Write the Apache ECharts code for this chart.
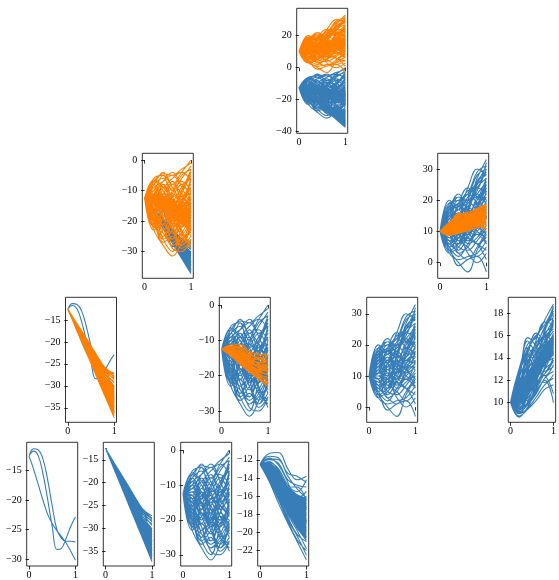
<!DOCTYPE html>
<html>
<head>
<meta charset="utf-8">
<script src="https://cdn.jsdelivr.net/npm/echarts@6/dist/echarts.min.js"></script>
<style>
  html, body { margin: 0; padding: 0; background: #fff; }
  #chart { width: 559px; height: 580px; }
</style>
</head>
<body>
<div id="chart"></div>
<script>
// x positions of the sampled values
const xs = [0, 0.2, 0.4, 0.6, 0.8, 1];
const xsFine = [0, 0.1, 0.2, 0.3, 0.4, 0.5, 0.6, 0.7, 0.8, 0.9, 1];
const xTicks = [0, 1];

// leaf H: three wandering curves (sampled on xsFine)
const leafH = [
  [-12.5, -11.3, -11.5, -13.0, -16.5, -21.0, -25.0, -26.5, -27.0, -27.0, -27.1],
  [-12.5, -11.7, -12.5, -15.5, -19.8, -24.5, -28.4, -28.2, -26.5, -24.5, -22.9],
  [-12.5, -14.8, -17.4, -20.0, -22.4, -24.0, -25.2, -26.2, -27.3, -28.7, -30.2]
];

// leaf I: tight falling wedge
const leafI = [
  [-12.5, -15.9, -19.2, -22.6, -25.8, -27.3],
  [-12.5, -16.0, -19.4, -22.9, -26.2, -28.0],
  [-12.5, -16.1, -19.6, -23.2, -26.4, -28.6],
  [-12.5, -16.2, -19.8, -23.5, -26.8, -29.4],
  [-12.5, -16.3, -20.0, -23.8, -27.4, -30.2],
  [-12.5, -16.4, -20.2, -24.1, -28.0, -30.8],
  [-12.5, -16.5, -20.4, -24.4, -28.4, -31.5],
  [-12.5, -16.6, -20.6, -24.7, -28.8, -32.0],
  [-12.5, -16.7, -20.8, -25.0, -29.2, -32.6],
  [-12.5, -16.8, -21.0, -25.3, -29.6, -33.2],
  [-12.5, -16.9, -21.2, -25.6, -30.0, -33.8],
  [-12.5, -17.0, -21.4, -25.9, -30.4, -34.4],
  [-12.5, -17.1, -21.6, -26.2, -30.8, -35.0],
  [-12.5, -17.2, -21.8, -26.6, -31.2, -35.6],
  [-12.5, -17.3, -22.0, -26.9, -31.6, -36.2],
  [-12.5, -17.4, -22.2, -27.1, -32.0, -36.8],
  [-12.5, -17.5, -22.4, -27.4, -32.3, -37.3],
  [-12.5, -16.3, -20.3, -23.6, -26.0, -27.8],
  [-12.5, -16.5, -20.6, -24.3, -26.9, -28.3],
  [-12.5, -16.8, -21.1, -24.9, -27.5, -29.0],
  [-12.5, -16.4, -21.0, -25.2, -29.0, -32.8],
  [-12.5, -17.0, -21.0, -25.0, -29.8, -34.8],
  [-12.5, -16.6, -20.1, -24.0, -28.6, -33.6],
  [-12.5, -17.2, -22.0, -26.4, -30.2, -33.0],
  [-12.5, -16.9, -21.5, -25.8, -30.7, -36.0]
];
const bandILo = [-12.5, -17.3, -22.1, -27.0, -31.8, -36.6];
const bandIHi = [-12.5, -16.4, -20.3, -24.1, -27.8, -30.0];

// leaf J: wide spread from -12.5
const leafJ = [
  [-12.5, -6, -5, -8, -4, 0],
  [-12.5, -7, -4.5, -5, -3, -1],
  [-12.5, -8, -6, -10, -6, -2],
  [-12.5, -9, -7, -5, -8, -4],
  [-12.5, -10, -5, -12, -10, -5],
  [-12.5, -11, -9, -6, -4, -7],
  [-12.5, -8, -12, -15, -10, -3],
  [-12.5, -13, -8, -14, -12, -9],
  [-12.5, -10, -14, -9, -15, -11],
  [-12.5, -14, -10, -18, -14, -6],
  [-12.5, -15, -16, -12, -8, -13],
  [-12.5, -12, -18, -20, -13, -8],
  [-12.5, -16, -11, -16, -20, -15],
  [-12.5, -17, -20, -14, -17, -12],
  [-12.5, -14, -19, -24, -18, -10],
  [-12.5, -18, -15, -22, -12, -17],
  [-12.5, -19, -23, -18, -22, -14],
  [-12.5, -16, -22, -27, -24, -18],
  [-12.5, -20, -17, -13, -19, -21],
  [-12.5, -21, -25, -21, -16, -19],
  [-12.5, -18, -26, -30, -22, -16],
  [-12.5, -22, -24, -28, -26, -23],
  [-12.5, -23, -28, -31.5, -27, -20],
  [-12.5, -20, -27, -25, -29, -26],
  [-12.5, -19, -13, -19, -25, -28],
  [-12.5, -15, -21, -17, -23, -29],
  [-12.5, -11, -16, -23, -28, -25],
  [-12.5, -13, -17, -11, -7, -10],
  [-12.5, -9, -13, -20, -18, -22],
  [-12.5, -17, -14, -8, -11, -16],
  [-12.5, -6.5, -9, -13, -16, -19],
  [-12.5, -14, -24, -26, -20, -24],
  [-12.5, -22, -19, -15, -24, -27],
  [-12.5, -10, -8, -17, -21, -14],
  [-12.5, -12, -11, -7, -14, -18],
  [-12.5, -16, -25, -19, -13, -11],
  [-12.5, -18, -22, -29, -30, -26],
  [-12.5, -13, -15, -10, -5, -3],
  [-12.5, -20, -21, -24, -15, -9],
  [-12.5, -15, -18, -22, -19, -20],
  [-12.5, -8, -4, -9, -13, -6],
  [-12.5, -11, -7, -4, -9, -15],
  [-12.5, -14, -12, -17, -22, -17],
  [-12.5, -17, -23, -20, -14, -7],
  [-12.5, -21, -18, -23, -27, -21],
  [-12.5, -9, -15, -21, -16, -12],
  [-12.5, -16, -13, -11, -17, -23],
  [-12.5, -19, -26, -23, -18, -13],
  [-12.5, -12, -20, -16, -11, -4],
  [-12.5, -15, -9, -12, -19, -25],
  [-12.5, -23, -21, -26, -21, -17],
  [-12.5, -13, -22, -28, -25, -20],
  [-12.5, -10, -17, -14, -9, -6],
  [-12.5, -18, -12, -21, -28, -22],
  [-12.5, -7, -10, -15, -12, -16]
];

// leaf K: narrow falling bundle
const leafK = [
  [-12.5, -11.3, -11.2, -13.0, -14.2, -13.8],
  [-12.5, -11.6, -11.8, -13.5, -13.8, -14.5],
  [-12.5, -12.0, -12.4, -14.2, -14.8, -15.0],
  [-12.5, -12.3, -13.0, -14.8, -15.5, -14.2],
  [-12.5, -12.6, -13.5, -15.2, -16.5, -16.0],
  [-12.5, -12.8, -14.0, -15.8, -16.2, -15.5],
  [-12.5, -13.0, -14.4, -16.3, -17.4, -17.0],
  [-12.5, -13.2, -14.8, -16.0, -17.8, -18.5],
  [-12.5, -13.4, -15.0, -17.0, -18.2, -17.8],
  [-12.5, -13.6, -15.4, -17.5, -19.0, -19.5],
  [-12.5, -13.8, -15.8, -17.8, -18.8, -18.0],
  [-12.5, -14.0, -16.0, -18.3, -20.2, -21.0],
  [-12.5, -14.2, -16.4, -18.8, -20.8, -22.0],
  [-12.5, -14.4, -16.8, -19.0, -21.0, -23.0],
  [-12.5, -12.2, -13.2, -15.0, -15.0, -16.5],
  [-12.5, -11.8, -12.6, -14.5, -16.8, -17.5],
  [-12.5, -13.1, -14.6, -17.2, -19.5, -20.5],
  [-12.5, -12.9, -14.2, -16.6, -18.6, -19.8],
  [-12.5, -13.5, -15.6, -18.0, -19.8, -21.8],
  [-12.5, -12.4, -13.8, -16.0, -17.0, -16.8],
  [-12.5, -13.7, -15.2, -16.8, -17.0, -18.8],
  [-12.5, -14.1, -16.2, -18.6, -20.4, -22.5],
  [-12.5, -11.9, -12.0, -13.8, -15.2, -16.2],
  [-12.5, -12.7, -13.9, -15.5, -17.6, -19.0],
  [-12.5, -13.3, -15.1, -17.4, -18.4, -17.2]
];
const bandKLo = [-12.5, -13.9, -15.9, -18.0, -19.6, -21.0];
const bandKHi = [-12.5, -12.3, -13.1, -14.9, -15.8, -16.2];

// leaf F: wide spread from 10
const leafF = [
  [10, 18, 21, 20, 27, 33],
  [10, 19, 20, 22, 29, 31],
  [10, 17, 19, 23, 25, 29],
  [10, 16, 21, 18, 24, 27],
  [10, 15, 17, 21, 28, 30],
  [10, 18, 15, 19, 22, 26],
  [10, 14, 19, 16, 20, 24],
  [10, 13, 12, 20, 26, 28],
  [10, 16, 13, 14, 18, 22],
  [10, 12, 16, 12, 17, 25],
  [10, 11, 14, 18, 15, 20],
  [10, 14, 10, 13, 21, 23],
  [10, 9, 13, 15, 12, 18],
  [10, 12, 8, 11, 16, 21],
  [10, 8, 11, 9, 14, 19],
  [10, 13, 17, 10, 9, 15],
  [10, 7, 6, 12, 19, 17],
  [10, 10, 9, 7, 11, 14],
  [10, 6, 4, 9, 13, 16],
  [10, 11, 12, 6, 8, 12],
  [10, 5, 2, 6, 10, 13],
  [10, 9, 5, 4, 7, 11],
  [10, 4, 0, -3, 4, 9],
  [10, 7, 3, 1, 5, 10],
  [10, 3, 1, 2, 3, 7],
  [10, 8, 7, 5, 2, 5],
  [10, 6, 8, 3, 0, 3],
  [10, 5, -1, 1, 2, -3],
  [10, 12, 18, 15, 10, 8],
  [10, 15, 20, 17, 13, 6],
  [10, 17, 14, 11, 17, 24],
  [10, 13, 15, 19, 23, 32],
  [10, 11, 10, 15, 20, 27],
  [10, 9, 15, 13, 9, 10],
  [10, 14, 16, 8, 6, 4],
  [10, 7, 9, 14, 16, 19],
  [10, 10, 7, 16, 22, 20],
  [10, 16, 18, 13, 15, 18],
  [10, 12, 4, 8, 12, 15],
  [10, 8, 12, 10, 6, 8],
  [10, 6, 10, 17, 14, 12],
  [10, 19, 17, 21, 24, 22],
  [10, 15, 11, 9, 18, 26],
  [10, 4, 6, 11, 15, 14],
  [10, 11, 19, 24, 21, 16],
  [10, 20, 18, 24, 30, 28],
  [10, 17, 22, 19, 23, 30],
  [10, 14, 18, 22, 19, 14],
  [10, 12, 9, 17, 25, 31],
  [10, 8, 14, 20, 17, 23],
  [10, 5, 8, 13, 18, 25],
  [10, 13, 6, 10, 14, 17],
  [10, 16, 14, 18, 21, 19],
  [10, 9, 3, 5, 9, 6],
  [10, 11, 16, 14, 11, 13],
  [10, 7, 12, 7, 12, 20],
  [10, 15, 13, 16, 26, 29],
  [10, 3, 5, 8, 6, 1],
  [10, 10, 13, 11, 19, 21],
  [10, 18, 12, 15, 12, 9]
];

// leaf G: narrow rising bundle from 10
const leafG = [
  [10, 13.0, 15.2, 15.8, 17.4, 18.8],
  [10, 12.8, 14.8, 16.0, 17.0, 18.4],
  [10, 12.5, 15.5, 14.5, 16.5, 18.0],
  [10, 12.2, 14.0, 15.0, 16.8, 17.6],
  [10, 11.8, 13.5, 15.4, 15.8, 17.2],
  [10, 11.5, 13.8, 14.2, 16.2, 16.8],
  [10, 11.2, 12.8, 14.6, 15.4, 16.4],
  [10, 11.0, 13.2, 13.6, 15.0, 16.0],
  [10, 10.8, 12.4, 13.8, 14.6, 15.6],
  [10, 10.5, 12.0, 13.2, 15.2, 15.2],
  [10, 10.3, 11.6, 12.8, 14.2, 14.8],
  [10, 10.0, 11.2, 12.4, 13.8, 14.4],
  [10, 9.8, 10.8, 12.0, 13.4, 14.0],
  [10, 9.6, 10.4, 11.6, 13.0, 13.6],
  [10, 9.4, 10.0, 11.2, 12.6, 13.2],
  [10, 9.2, 9.8, 10.8, 12.2, 12.8],
  [10, 9.0, 9.5, 10.5, 11.6, 12.2],
  [10, 8.8, 9.4, 10.2, 11.2, 11.6],
  [10, 8.7, 9.6, 11.0, 12.0, 10.0],
  [10, 9.1, 10.6, 12.6, 12.4, 10.8],
  [10, 11.6, 14.4, 16.0, 14.0, 15.0],
  [10, 12.0, 15.8, 15.0, 13.5, 14.5],
  [10, 10.6, 13.0, 15.6, 17.2, 17.0],
  [10, 11.4, 12.2, 13.0, 14.8, 17.8],
  [10, 9.5, 11.4, 14.0, 16.4, 18.2],
  [10, 10.2, 12.6, 12.0, 11.8, 12.5],
  [10, 9.9, 11.0, 13.4, 15.6, 16.6],
  [10, 11.9, 12.9, 11.8, 13.2, 15.8],
  [10, 10.4, 10.2, 11.8, 14.4, 16.2],
  [10, 12.4, 13.6, 14.8, 16.0, 15.4],
  [10, 9.3, 10.9, 12.2, 13.6, 15.0],
  [10, 11.1, 14.2, 13.0, 12.8, 13.8],
  [10, 10.7, 11.8, 14.4, 15.0, 14.2],
  [10, 9.7, 9.9, 11.4, 13.0, 14.6],
  [10, 12.6, 14.6, 16.2, 15.6, 17.4],
  [10, 12.9, 14.2, 15.3, 16.7, 18.6],
  [10, 11.7, 13.0, 14.0, 16.0, 17.4],
  [10, 10.9, 12.7, 13.4, 14.2, 15.8],
  [10, 10.1, 11.5, 13.6, 14.6, 16.0],
  [10, 9.5, 10.6, 11.8, 12.6, 14.0],
  [10, 11.3, 13.4, 15.1, 15.9, 16.8],
  [10, 9.0, 10.1, 12.0, 14.0, 15.4],
  [10, 12.2, 14.9, 14.0, 15.2, 17.0],
  [10, 10.0, 12.2, 13.0, 12.4, 13.4],
  [10, 10.5, 11.1, 12.6, 13.8, 15.2]
];
const bandGLo = [10, 9.8, 10.9, 12.2, 13.4, 14.2];
const bandGHi = [10, 11.0, 12.7, 14.0, 15.2, 16.0];

const BLUE = '#377eb8';
const ORANGE = '#ff7f00';
const FONT = 'Liberation Serif, Times New Roman, serif';

const leaves = { H: leafH, I: leafI, J: leafJ, K: leafK, F: leafF, G: leafG };
const bands = { I: [bandILo, bandIHi], K: [bandKLo, bandKHi], G: [bandGLo, bandGHi] };

// panel layout (tree of splits)
const panels = [
  { left: 296.7, top: 8.3,   y: [-41, 37.1],     ticks: [-40, -20, 0, 20],            blue: ['H', 'I', 'J', 'K'], orange: ['F', 'G'] },
  { left: 142.3, top: 153.3, y: [-38.8, 2.2],    ticks: [-30, -20, -10, 0],           blue: ['H', 'I'], orange: ['J', 'K'] },
  { left: 437.7, top: 153.3, y: [-5, 35],        ticks: [0, 10, 20, 30],              blue: ['F'], orange: ['G'] },
  { left: 65.5,  top: 297.3, y: [-38.3, -9.85],  ticks: [-35, -30, -25, -20, -15],    blue: ['H'], orange: ['I'] },
  { left: 219.3, top: 297.3, y: [-33.2, 2.2],    ticks: [-30, -20, -10, 0],           blue: ['J'], orange: ['K'] },
  { left: 366.7, top: 297.3, y: [-4.9, 35.3],    ticks: [0, 10, 20, 30],              blue: ['F'], orange: [] },
  { left: 508.3, top: 297.3, y: [8.24, 19.4],    ticks: [10, 12, 14, 16, 18],         blue: ['G'], orange: [] },
  { left: 26.7,  top: 442.3, y: [-31.2, -10.2],  ticks: [-30, -25, -20, -15],         blue: ['H'], orange: [] },
  { left: 103.3, top: 442.3, y: [-38.3, -11.15], ticks: [-35, -30, -25, -20, -15],    blue: ['I'], orange: [] },
  { left: 180.7, top: 442.3, y: [-33.2, 2.2],    ticks: [-30, -20, -10, 0],           blue: ['J'], orange: [] },
  { left: 257.7, top: 442.3, y: [-23.7, -10.07], ticks: [-22, -20, -18, -16, -14, -12], blue: ['K'], orange: [] }
];

const fmt = v => String(v).replace('-', '\u2212');

const chart = echarts.init(document.getElementById('chart'));

const grid = [], xAxis = [], yAxis = [], series = [];

function curveData(curves) {
  const data = [];
  curves.forEach(c => {
    const x = c.length === xsFine.length ? xsFine : xs;
    c.forEach((v, i) => data.push([x[i], v]));
    data.push([1, null]); // break between curves
  });
  return data;
}

function addLeaf(name, gi, color) {
  if (bands[name]) {
    const [lo, hi] = bands[name];
    // dense core of the bundle, filled between its two edges
    series.push({
      type: 'custom', xAxisIndex: gi, yAxisIndex: gi, silent: true,
      data: [[xs[0], lo[0]]],
      renderItem: (params, api) => {
        const pts = xs.map((x, i) => api.coord([x, lo[i]]));
        for (let i = xs.length - 1; i >= 0; i--) pts.push(api.coord([xs[i], hi[i]]));
        return { type: 'polygon', shape: { points: pts }, style: { fill: color } };
      }
    });
  }
  series.push({
    type: 'line', xAxisIndex: gi, yAxisIndex: gi, smooth: 0.4,
    symbol: 'none', silent: true, connectNulls: false,
    lineStyle: { color, width: 1.1 },
    data: curveData(leaves[name])
  });
}

panels.forEach((p, gi) => {
  grid.push({
    left: p.left, top: p.top, width: 51, height: 125,
    show: true, borderColor: '#000', borderWidth: 0.8, backgroundColor: 'transparent'
  });
  const common = {
    gridIndex: gi, type: 'value',
    axisLine: { show: false },
    splitLine: { show: false },
    axisTick: { show: true, length: 3.5, lineStyle: { color: '#000', width: 0.8 } },
    axisLabel: { fontSize: 10, fontFamily: FONT, color: '#000', formatter: fmt }
  };
  xAxis.push(Object.assign({}, common, {
    min: -0.05, max: 1.05,
    axisTick: Object.assign({}, common.axisTick, { customValues: xTicks }),
    axisLabel: Object.assign({}, common.axisLabel, { customValues: xTicks, margin: 4 })
  }));
  yAxis.push(Object.assign({}, common, {
    min: p.y[0], max: p.y[1],
    axisTick: Object.assign({}, common.axisTick, { customValues: p.ticks }),
    axisLabel: Object.assign({}, common.axisLabel, { customValues: p.ticks, margin: 5 })
  }));
  p.blue.forEach(n => addLeaf(n, gi, BLUE));
  p.orange.forEach(n => addLeaf(n, gi, ORANGE));
});

chart.setOption({
  animation: false,
  grid, xAxis, yAxis, series
});
</script>
</body>
</html>
